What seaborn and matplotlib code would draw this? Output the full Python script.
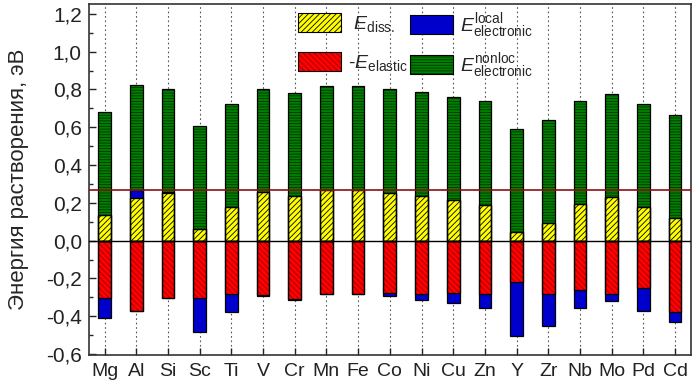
import matplotlib
matplotlib.use('Agg')
import matplotlib.pyplot as plt
from matplotlib.patches import Patch
from matplotlib.legend_handler import HandlerTuple
from matplotlib.ticker import MultipleLocator, FuncFormatter
import seaborn as sns
import numpy as np

# values (eV)
elements = ['Mg', 'Al', 'Si', 'Sc', 'Ti', 'V', 'Cr', 'Mn', 'Fe', 'Co',
            'Ni', 'Cu', 'Zn', 'Y', 'Zr', 'Nb', 'Mo', 'Pd', 'Cd']
e_diss = [0.137, 0.226, 0.250, 0.062, 0.176, 0.257, 0.236, 0.268, 0.266, 0.251,
          0.234, 0.217, 0.190, 0.044, 0.093, 0.192, 0.229, 0.176, 0.118]
e_local = [-0.108, 0.042, 0.008, -0.182, -0.093, -0.004, -0.002, 0.0, 0.0, -0.015,
           -0.027, -0.056, -0.076, -0.289, -0.173, -0.093, -0.041, -0.122, -0.051]
e_nonloc = [0.545, 0.557, 0.546, 0.546, 0.545, 0.548, 0.546, 0.551, 0.550, 0.549,
            0.550, 0.544, 0.547, 0.546, 0.547, 0.548, 0.548, 0.546, 0.546]
e_elastic = [0.303, 0.374, 0.305, 0.303, 0.282, 0.287, 0.310, 0.282, 0.280, 0.279,
             0.285, 0.275, 0.282, 0.217, 0.280, 0.261, 0.280, 0.250, 0.377]
ref_level = 0.268

sns.set_style('ticks')
plt.rcParams['font.family'] = ['Liberation Sans', 'DejaVu Sans']
plt.rcParams['mathtext.fontset'] = 'custom'
plt.rcParams['mathtext.rm'] = 'Liberation Sans'
plt.rcParams['mathtext.it'] = 'Liberation Sans:italic'
plt.rcParams['hatch.linewidth'] = 0.6

diss = np.array(e_diss)
loc = np.array(e_local)
top_yellow = diss
top_blue = diss + np.clip(loc, 0, None)
top_green = top_blue + np.array(e_nonloc)
bot_red = -np.array(e_elastic)
bot_blue = bot_red + np.clip(loc, None, 0)

fig = plt.figure(figsize=(6.93, 3.85), dpi=100)
ax = fig.add_axes([0.128, 0.078, 0.869, 0.912])

w = 0.4
# layers painted from the outside in: (heights, face, hatch colour, hatch)
layers = [
    (top_green, '#008000', '#003300', '------'),
    (top_blue, '#0000CC', '#0000CC', None),
    (top_yellow, '#FFFF00', '#000000', '//////'),
    (bot_blue, '#0000CC', '#0000CC', None),
    (bot_red, '#FF0000', '#990000', '\\\\\\\\\\\\'),
]
for h, fc, hc, hatch in layers:
    sns.barplot(x=elements, y=h, order=elements, color=fc, saturation=1,
                errorbar=None, width=w, edgecolor=hc, linewidth=0,
                hatch=hatch, ax=ax, zorder=2)
for h, fc, hc, hatch in layers:
    sns.barplot(x=elements, y=h, order=elements, color='black', fill=False,
                saturation=1, errorbar=None, width=w, linewidth=0.9,
                ax=ax, zorder=2.5)

ax.axhline(0, color='black', lw=1, zorder=3)
ax.axhline(ref_level, color='#8B1010', lw=1.2, zorder=3)

ax.set_xlim(-0.5, len(elements) - 0.5)
ax.set_ylim(-0.605, 1.253)
ax.yaxis.set_major_locator(MultipleLocator(0.2))
ax.yaxis.set_minor_locator(MultipleLocator(0.1))
ax.yaxis.set_major_formatter(FuncFormatter(lambda v, p: f'{v:.1f}'.replace('.', ',').replace('-0,0', '0,0')))
ax.tick_params(axis='both', which='major', direction='in', length=5, width=1,
               colors='#222222')
ax.tick_params(axis='y', which='major', labelsize=15, pad=5)
ax.tick_params(axis='x', which='major', labelsize=14, pad=6)
ax.tick_params(axis='y', which='minor', direction='in', length=3, width=1)
ax.grid(axis='x', linestyle=(0, (1.5, 2.5)), color='#555555', lw=0.8)
ax.set_axisbelow(True)
for s in ax.spines.values():
    s.set_linewidth(1.2)
    s.set_color('#333333')

ax.set_xlabel('')
ax.set_ylabel('Энергия растворения, эВ', fontsize=16, labelpad=12)

# legend: two separate columns so the rows line up
outline = dict(fill=False, edgecolor='black', lw=0.8)
h_diss = (Patch(facecolor='#FFFF00', edgecolor='#000000', lw=0, hatch='//////'), Patch(**outline))
h_elas = (Patch(facecolor='#FF0000', edgecolor='#990000', lw=0, hatch='\\\\\\\\\\\\'), Patch(**outline))
h_loc = (Patch(facecolor='#0000CC', edgecolor='#0000CC', lw=0), Patch(**outline))
h_nonloc = (Patch(facecolor='#008000', edgecolor='#003300', lw=0, hatch='------'), Patch(**outline))
leg_kw = dict(handler_map={tuple: HandlerTuple(ndivide=1)}, loc='upper left',
              frameon=False, fontsize=14, handlelength=2.25, handleheight=1.15,
              handletextpad=0.35, borderpad=0, borderaxespad=0)
leg1 = ax.legend([h_diss, h_elas],
                 [r' $\mathit{E}_{\mathrm{diss.}}$', r'-$\mathit{E}_{\mathrm{elastic}}$'],
                 bbox_to_anchor=(0.347, 0.974), labelspacing=0.9, **leg_kw)
ax.add_artist(leg1)
ax.legend([h_loc, h_nonloc],
          [r'$\mathit{E}^{\mathrm{local}}_{\mathrm{electronic}}$',
           r'$\mathit{E}^{\mathrm{nonloc}}_{\mathrm{electronic}}$'],
          bbox_to_anchor=(0.533, 0.979), labelspacing=0.55, **leg_kw)

fig.savefig('out.png', dpi=100)
